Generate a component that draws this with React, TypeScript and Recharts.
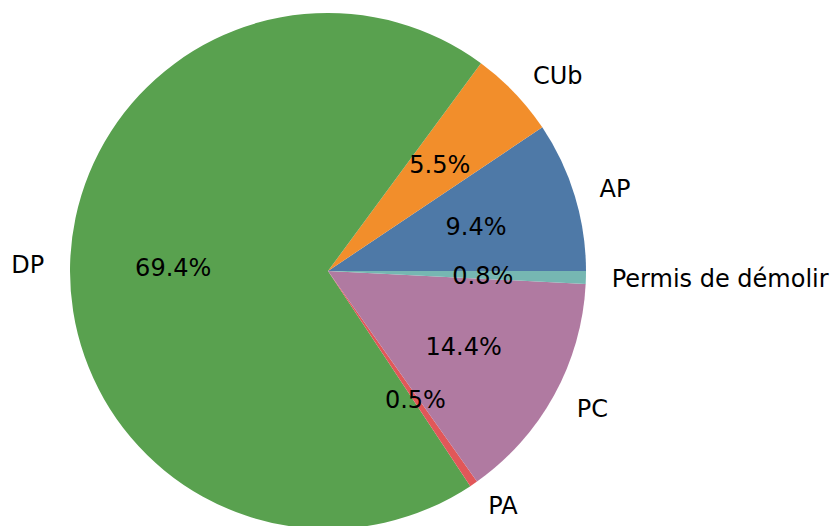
import React from 'react';
import { PieChart, Pie, Cell } from 'recharts';

const categories = ['AP', 'CUb', 'DP', 'PA', 'PC', 'Permis de démolir'];
const shares = [9.4, 5.5, 69.4, 0.5, 14.4, 0.8];
const colors = ['#4e79a7', '#f28e2b', '#59a14f', '#e15759', '#b07aa1', '#76b7b2'];

const data = categories.map((name, i) => ({ name, value: shares[i] }));

const RADIAN = Math.PI / 180;
const FONT = 'DejaVu Sans, sans-serif';

const renderLabel = (props: any) => {
  const { cx, cy, midAngle, outerRadius, percent, name } = props;
  const cos = Math.cos(-midAngle * RADIAN);
  const sin = Math.sin(-midAngle * RADIAN);
  const nx = cx + outerRadius * 1.1 * cos;
  const ny = cy + outerRadius * 1.1 * sin;
  const px = cx + outerRadius * 0.6 * cos;
  const py = cy + outerRadius * 0.6 * sin;
  return (
    <g>
      <text
        x={nx}
        y={ny + 1}
        textAnchor={cos >= 0 ? 'start' : 'end'}
        dominantBaseline="central"
        fill="#000"
        fontSize={24}
        fontFamily={FONT}
      >
        {name}
      </text>
      <text
        x={px}
        y={py + 1}
        textAnchor="middle"
        dominantBaseline="central"
        fill="#000"
        fontSize={24}
        fontFamily={FONT}
      >
        {(percent * 100).toFixed(1)}%
      </text>
    </g>
  );
};

export default function App() {
  return (
    <div style={{ position: 'absolute', left: 0, top: 0, width: 833, height: 526, background: '#fff' }}>
      <PieChart width={833} height={526} margin={{ top: 0, right: 0, bottom: 0, left: 0 }}>
        <Pie
          data={data}
          dataKey="value"
          nameKey="name"
          cx={328}
          cy={271}
          innerRadius={0}
          outerRadius={258}
          startAngle={0}
          endAngle={360}
          stroke="none"
          label={renderLabel}
          labelLine={false}
          isAnimationActive={false}
        >
          {data.map((d, i) => (
            <Cell key={d.name} fill={colors[i]} />
          ))}
        </Pie>
      </PieChart>
    </div>
  );
}
